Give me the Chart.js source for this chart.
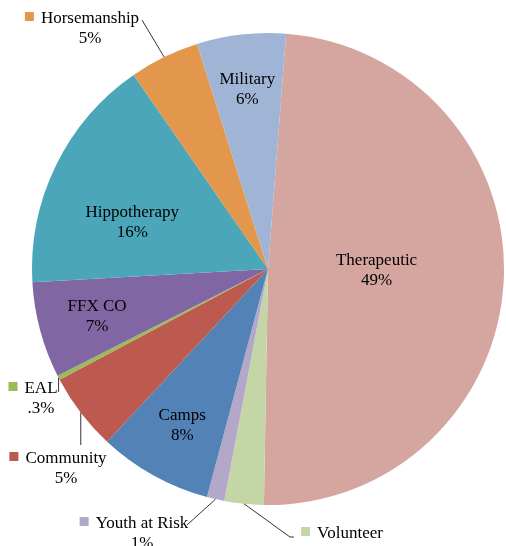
<!DOCTYPE html>
<html>
<head>
<meta charset="utf-8">
<script src="https://cdn.jsdelivr.net/npm/chart.js@4/dist/chart.umd.min.js"></script>
<style>
  html, body { margin: 0; padding: 0; background: #ffffff; overflow: hidden; }
  #wrap { width: 506px; height: 546px; }
</style>
</head>
<body>
<div id="wrap"><canvas id="c" width="506" height="546"></canvas></div>
<script>
// ---- data ----
const categories = ['Therapeutic', 'Volunteer', 'Youth at Risk', 'Camps', 'Community', 'EAL', 'FFX CO', 'Hippotherapy', 'Horsemanship', 'Military'];
const shares = [49.2, 2.7, 1.2, 7.8, 5.3, 0.3, 6.6, 16.3, 4.8, 6.1];
const pctLabels = ['49%', '3%', '1%', '8%', '5%', '.3%', '7%', '16%', '5%', '6%'];
const sliceColors = ['#D5A5A0', '#C4D6A6', '#B3A8CA', '#5282B6', '#BC5A50', '#9BBB59', '#8066A2', '#4AA6B8', '#E2974C', '#A0B5D6'];

// ---- label layout (text placement only) ----
const insideLayout = {
  'Therapeutic':  { frac: 0.46, dAng: -2.5 },
  'Camps':        { frac: 0.75, dAng: 0 },
  'FFX CO':       { frac: 0.75, dAng: 0 },
  'Hippotherapy': { frac: 0.61, dAng: -6.6 },
  'Military':     { frac: 0.77, dAng: 0 }
};
// outside labels: text centre x / name baseline y; leader line end (vertical: keep edge x)
const outsideLayout = {
  'Horsemanship':  { tx: 90,  ty: 23,  line: [[142, 20]] },
  'EAL':           { tx: 41,  ty: 393, vertical: 392 },
  'Community':     { tx: 66,  ty: 463, vertical: 445 },
  'Youth at Risk': { tx: 142, ty: 528, line: [[187, 525]] },
  'Volunteer':     { tx: 350, ty: 538, line: [[290, 537], [294, 537]] }
};

const FONT = '17px "Liberation Serif", "Times New Roman", serif';

const labelPlugin = {
  id: 'pieLabels',
  afterDatasetsDraw(chart) {
    const ctx = chart.ctx;
    const meta = chart.getDatasetMeta(0);
    ctx.save();
    ctx.font = FONT;
    ctx.fillStyle = '#000000';
    meta.data.forEach((arc, i) => {
      const name = categories[i];
      const p = arc.getProps(['x', 'y', 'startAngle', 'endAngle', 'outerRadius'], true);
      const mid = (p.startAngle + p.endAngle) / 2;
      if (insideLayout[name]) {
        const L = insideLayout[name];
        const a = mid + L.dAng * Math.PI / 180;
        const r = p.outerRadius * L.frac;
        const cx = p.x + r * Math.cos(a);
        const cy = p.y + r * Math.sin(a);
        ctx.textAlign = 'center';
        ctx.textBaseline = 'alphabetic';
        ctx.fillText(name, cx, cy - 4);
        ctx.fillText(pctLabels[i], cx, cy + 16);
      } else if (outsideLayout[name]) {
        const L = outsideLayout[name];
        const ex = p.x + p.outerRadius * Math.cos(mid);
        const ey = p.y + p.outerRadius * Math.sin(mid);
        ctx.strokeStyle = '#000000';
        ctx.lineWidth = 0.8;
        ctx.beginPath();
        ctx.moveTo(ex, ey);
        if (L.vertical !== undefined) {
          ctx.lineTo(ex, L.vertical);
        } else {
          L.line.forEach(pt => ctx.lineTo(pt[0], pt[1]));
        }
        ctx.stroke();
        ctx.textAlign = 'center';
        ctx.textBaseline = 'alphabetic';
        ctx.fillText(name, L.tx, L.ty);
        ctx.fillText(pctLabels[i], L.tx, L.ty + 20);
        const w = ctx.measureText(name).width;
        ctx.fillStyle = sliceColors[i];
        ctx.fillRect(L.tx - w / 2 - 16, L.ty - 11, 9, 9);
        ctx.fillStyle = '#000000';
      }
    });
    ctx.restore();
  }
};

new Chart(document.getElementById('c'), {
  type: 'pie',
  data: {
    labels: categories,
    datasets: [{
      data: shares,
      backgroundColor: sliceColors,
      borderWidth: 0
    }]
  },
  options: {
    responsive: false,
    animation: false,
    rotation: 4.4,
    layout: { padding: { left: 32, right: 2, top: 33, bottom: 41 } },
    plugins: { legend: { display: false }, tooltip: { enabled: false } }
  },
  plugins: [labelPlugin]
});
</script>
</body>
</html>
